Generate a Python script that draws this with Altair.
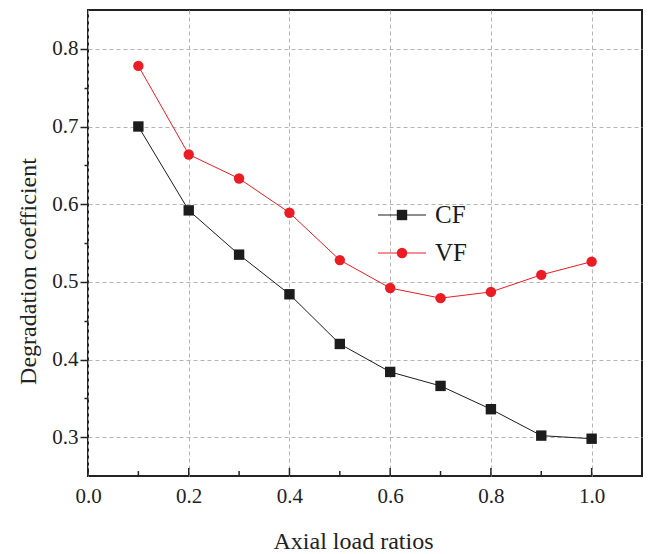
import altair as alt
import pandas as pd

# Axial load ratio and degradation coefficients for the two specimen types
ratios = [0.1, 0.2, 0.3, 0.4, 0.5, 0.6, 0.7, 0.8, 0.9, 1.0]
cf_values = [0.700, 0.592, 0.535, 0.484, 0.420, 0.384, 0.366, 0.336, 0.302, 0.298]
vf_values = [0.778, 0.664, 0.633, 0.589, 0.528, 0.492, 0.479, 0.487, 0.509, 0.526]
series_names = ["CF", "VF"]
series_colors = ["#1c1c1c", "#ec1c24"]
series_shapes = ["square", "circle"]

x_major = [0.0, 0.2, 0.4, 0.6, 0.8, 1.0]
x_minor = [0.1, 0.3, 0.5, 0.7, 0.9]
y_major = [0.3, 0.4, 0.5, 0.6, 0.7, 0.8]
y_minor = [0.35, 0.45, 0.55, 0.65, 0.75]

df = pd.DataFrame({
    "ratio": ratios * 2,
    "coef": cf_values + vf_values,
    "series": ["CF"] * len(ratios) + ["VF"] * len(ratios),
})
major_df = pd.DataFrame({"tick": x_major})
minor_df = pd.DataFrame({"tick": x_minor})
legend_df = pd.DataFrame({"series": series_names, "row": list(range(len(series_names)))})

FONT = "Liberation Serif"
INK = "#222222"
W, H = 554, 466

x_scale = alt.Scale(domain=[0.0, 1.1], nice=False, zero=False)
y_scale = alt.Scale(domain=[0.25, 0.85], nice=False, zero=False)
col_scale = alt.Scale(domain=series_names, range=series_colors)
shape_scale = alt.Scale(domain=series_names, range=series_shapes)

grid_style = dict(grid=True, gridColor="#b4b4b4", gridDash=[4, 3], gridWidth=1)
tick_style = dict(tickWidth=1.5, tickColor=INK, domain=False, grid=False)

# Connecting lines, with the labelled axes and the dashed grid
lines = alt.Chart(df).mark_line(strokeWidth=1).encode(
    x=alt.X("ratio:Q", scale=x_scale,
            axis=alt.Axis(orient="bottom", values=x_major, format=".1f",
                          title="Axial load ratios", ticks=False, domain=False,
                          labelFlush=False, labelPadding=9, titlePadding=23,
                          titleX=265, **grid_style)),
    y=alt.Y("coef:Q", scale=y_scale,
            axis=alt.Axis(orient="left", values=y_major, format=".1f",
                          title="Degradation coefficient", tickSize=8,
                          tickWidth=1.5, tickColor=INK, domain=False,
                          labelFlush=False, labelPadding=2, titlePadding=11,
                          titleY=261, **grid_style)),
    color=alt.Color("series:N", scale=col_scale, legend=None),
    detail="series:N",
)

# Markers; this layer also carries the small outward minor ticks on y
points = alt.Chart(df).mark_point(filled=True, opacity=1, size=108).encode(
    x=alt.X("ratio:Q", scale=x_scale, axis=None),
    y=alt.Y("coef:Q", scale=y_scale,
            axis=alt.Axis(orient="left", values=y_minor, labels=False,
                          title=None, tickSize=4, **tick_style)),
    color=alt.Color("series:N", scale=col_scale, legend=None),
    shape=alt.Shape("series:N", scale=shape_scale, legend=None),
)

# Inward ticks along the bottom edge
major_ticks = alt.Chart(major_df).mark_rule(color=INK, strokeWidth=1.5).encode(
    x=alt.X("tick:Q", scale=x_scale, axis=None),
    y=alt.value(H), y2=alt.value(H - 8),
)
minor_ticks = alt.Chart(minor_df).mark_rule(color=INK, strokeWidth=1.5).encode(
    x=alt.X("tick:Q", scale=x_scale, axis=None),
    y=alt.value(H), y2=alt.value(H - 5),
)

# Legend: line sample, marker and label for each series
row_scale = alt.Scale(domain=[0, 1], range=[205, 243])
leg_line = alt.Chart(legend_df).mark_rule(strokeWidth=1).encode(
    x=alt.value(290), x2=alt.value(338),
    y=alt.Y("row:Q", scale=row_scale, axis=None),
    color=alt.Color("series:N", scale=col_scale, legend=None),
)
leg_mark = alt.Chart(legend_df).mark_point(filled=True, opacity=1, size=108).encode(
    x=alt.value(314),
    y=alt.Y("row:Q", scale=row_scale, axis=None),
    color=alt.Color("series:N", scale=col_scale, legend=None),
    shape=alt.Shape("series:N", scale=shape_scale, legend=None),
)
leg_text = alt.Chart(legend_df).mark_text(
    align="left", baseline="middle", font=FONT, fontSize=25, color="#1a1a1a"
).encode(
    x=alt.value(347),
    y=alt.Y("row:Q", scale=row_scale, axis=None),
    text="series:N",
)

chart = alt.layer(
    lines, points, major_ticks, minor_ticks, leg_line, leg_mark, leg_text
).resolve_axis(
    x="independent", y="independent"
).resolve_scale(
    y="independent"
).properties(
    width=W, height=H,
    autosize=alt.AutoSizeParams(type="none"),
    padding={"left": 88, "top": 10, "right": 9, "bottom": 78},
    background="white",
).configure_view(
    stroke=INK, strokeWidth=2
).configure_axis(
    labelFont=FONT, labelFontSize=21, labelColor=INK,
    titleFont=FONT, titleFontSize=24, titleFontWeight="normal", titleColor=INK,
)

chart.save("out.html", embed_options={"renderer": "svg", "actions": False})
